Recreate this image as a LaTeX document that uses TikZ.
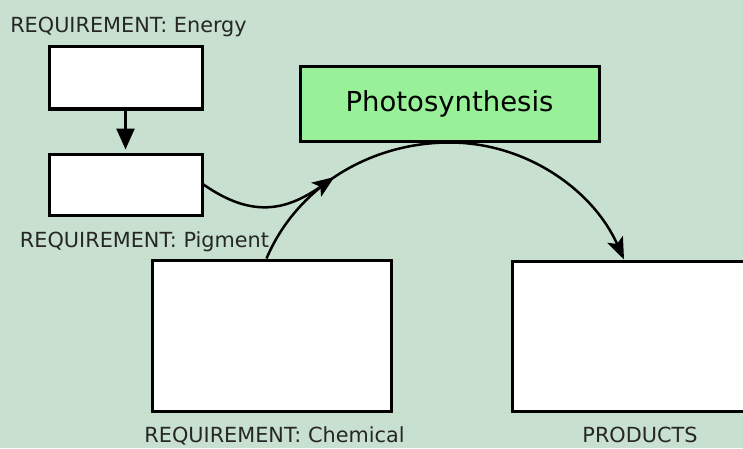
\documentclass[tikz,border=0pt]{standalone}
\usepackage{fontspec}
\setmainfont{DejaVu Sans}
\usetikzlibrary{positioning,arrows.meta}

\definecolor{bggreen}{RGB}{200,224,208}
\definecolor{photogreen}{RGB}{152,240,152}
\tikzstyle{box} = [rectangle, draw=black, fill=white, line width=3pt, inner sep=0pt]
\tikzstyle{lbl} = [inner sep=0pt, font=\fontsize{20.8}{24}\selectfont, text=black!85]
\tikzstyle{flow} = [line width=2.5pt, -{Stealth[length=22pt,width=17pt,inset=5pt]}]

\begin{document}
\begin{tikzpicture}[x=1pt,y=1pt]
\clip (0,0) rectangle (743,448);
\fill[bggreen] (0,0) rectangle (743,448);

\node[box, minimum width=153pt, minimum height=62pt] (energy) at (125.5,370) {};
\node[lbl] (energylabel) [above=8pt of energy, xshift=3pt] {REQUIREMENT: Energy};

\node[box, minimum width=153pt, minimum height=61pt] (pigment) [below=42pt of energy] {};
\node[lbl] (pigmentlabel) [below=15pt of pigment, xshift=19pt] {REQUIREMENT: Pigment};

\node[box, fill=photogreen, minimum width=299pt, minimum height=74pt, font=\fontsize{27.5}{30}\selectfont] (photo) at (449.5,344) {Photosynthesis};

\node[box, minimum width=239pt, minimum height=151pt] (chem) at (271.5,112.5) {};
\node[lbl] (chemlabel) [below=14pt of chem, xshift=3pt] {REQUIREMENT: Chemical};

\node[box, minimum width=256pt, minimum height=150pt] (prod) at (640,112) {};
\node[lbl] (prodlabel) [below=14pt of prod] {PRODUCTS};

\draw[line width=2.5pt, -{Triangle[length=21pt,width=18pt]}] (energy) -- ([yshift=3pt]pigment.north);

% arc through the bottom of the process box
\draw[flow] ([xshift=-5pt]chem.north) to[out=67,in=180,looseness=0.93] coordinate[pos=0.47] (join) (photo.south)
    to[out=0,in=114,looseness=0.93] ([xshift=-16pt]prod.north);

\draw[flow] (pigment.east) to[out=-35,in=215,looseness=1.15] (join);

\end{tikzpicture}
\end{document}
